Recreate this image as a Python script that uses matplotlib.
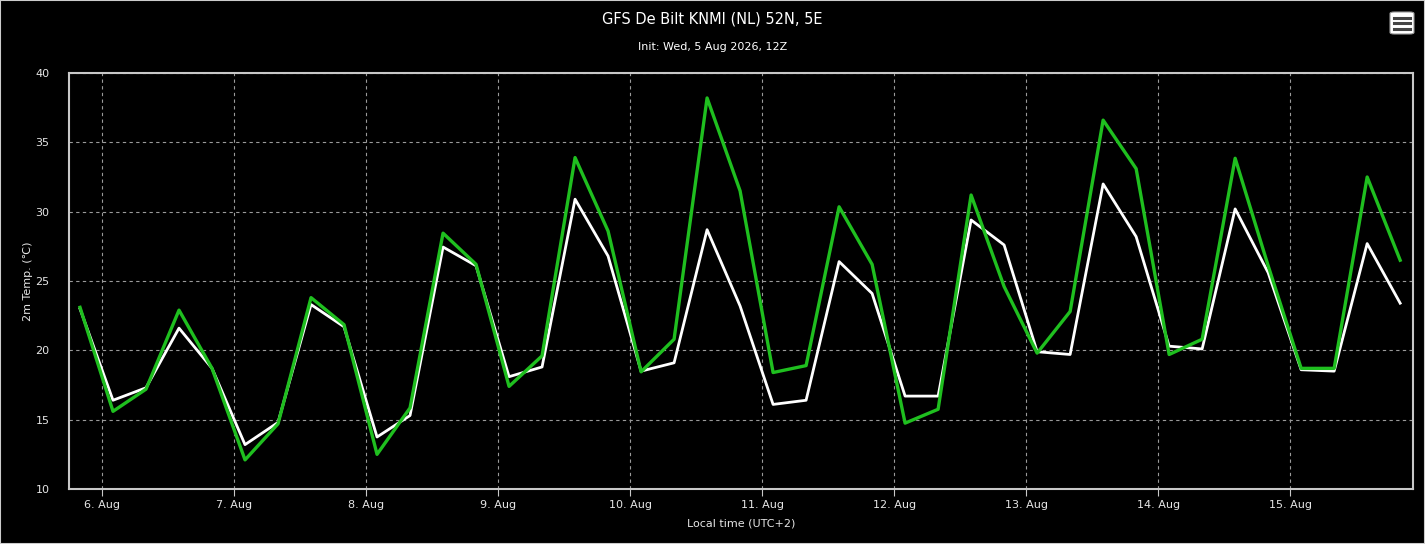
import pandas as pd
import matplotlib
matplotlib.use('Agg')
import matplotlib.pyplot as plt
import matplotlib.dates as mdates
from matplotlib.patches import FancyBboxPatch, Rectangle
from matplotlib.ticker import FuncFormatter

# 6-hourly forecast steps, local time (UTC+2), from 5 Aug 20:00
start_time = '2026-08-05 20:00'
n_steps = 41
times = pd.date_range(start_time, periods=n_steps, freq='6h')

# 2m temperature (C), two runs
temp_white = [23.0, 16.4, 17.3, 21.6, 18.7, 13.2, 14.8, 23.3, 21.7, 13.75,
              15.3, 27.45, 26.1, 18.1, 18.8, 30.9, 26.8, 18.5, 19.1, 28.7,
              23.2, 16.1, 16.4, 26.4, 24.1, 16.7, 16.7, 29.4, 27.6, 19.9,
              19.7, 32.0, 28.2, 20.3, 20.1, 30.2, 25.6, 18.6, 18.5, 27.7, 23.4]
temp_green = [23.1, 15.6, 17.2, 22.9, 18.7, 12.1, 14.7, 23.8, 21.85, 12.5,
              15.85, 28.45, 26.2, 17.4, 19.6, 33.9, 28.6, 18.45, 20.8, 38.2,
              31.5, 18.4, 18.9, 30.35, 26.2, 14.75, 15.75, 31.2, 24.6, 19.8,
              22.8, 36.6, 33.1, 19.7, 20.8, 33.85, 26.1, 18.7, 18.7, 32.5, 26.5]

y_ticks = [10, 15, 20, 25, 30, 35, 40]

fig = plt.figure(figsize=(14.25, 5.44), dpi=100, facecolor='black')
ax = fig.add_axes([69/1425, 1 - 489/544, (1413-69)/1425, (489-73)/544])
ax.set_facecolor('black')

ax.plot(times, temp_white, color='white', linewidth=2.0, zorder=3)
ax.plot(times, temp_green, color='#1fbf1f', linewidth=2.4, zorder=4)

ax.set_ylim(10, 40)
ax.set_yticks(y_ticks)
ax.set_xlim(pd.Timestamp('2026-08-05 18:00'), pd.Timestamp('2026-08-15 22:20'))
ax.xaxis.set_major_locator(mdates.DayLocator())
ax.xaxis.set_major_formatter(FuncFormatter(
    lambda v, pos: '%d. %s' % (mdates.num2date(v).day, mdates.num2date(v).strftime('%b'))))

ax.grid(True, color='#9a9a9a', linestyle=(0, (3, 3)), linewidth=0.8)
for s in ax.spines.values():
    s.set_color('#c8c8c8')
    s.set_linewidth(1.5)

ax.tick_params(axis='y', length=0, colors='#e6e6e6', labelsize=8, pad=14)
ax.tick_params(axis='x', length=5, width=0.8, color='#c8c8c8',
               colors='#e6e6e6', labelsize=8, pad=3)

ax.set_ylabel('2m Temp. (\u2103)', color='#e6e6e6', fontsize=8, labelpad=2)
ax.set_xlabel('Local time (UTC+2)', color='#e6e6e6', fontsize=8, labelpad=6)

fig.text(0.5, 1 - 19/544, 'GFS De Bilt KNMI (NL) 52N, 5E', color='white',
         fontsize=10.5, ha='center', va='center')
fig.text(0.5, 1 - 47/544, 'Init: Wed, 5 Aug 2026, 12Z', color='white',
         fontsize=8, ha='center', va='center')

# menu button top right
W, H = 1425, 544
fig.patches.append(FancyBboxPatch((1390/W, 1 - 34/H), 24/W, 22/H,
                                  boxstyle='round,pad=0,rounding_size=0.003',
                                  transform=fig.transFigure, facecolor='white',
                                  edgecolor='#999999', linewidth=0.8))
for yy in [17.5, 23, 28.5]:
    fig.add_artist(plt.Line2D([1394/W, 1410/W], [1 - yy/H, 1 - yy/H],
                              transform=fig.transFigure, color='#444444', linewidth=2.2))

# thin border around the whole chart
fig.patches.append(Rectangle((0, 0), 1, 1, transform=fig.transFigure,
                             fill=False, edgecolor='#cccccc', linewidth=1.5))

fig.savefig('out.png', dpi=100, facecolor='black')
